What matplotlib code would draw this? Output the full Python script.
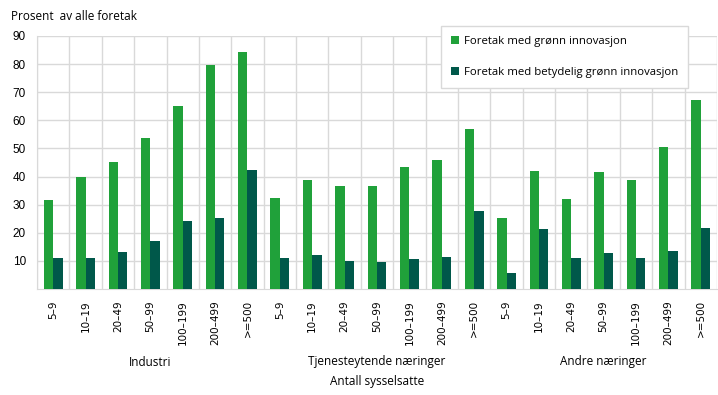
import numpy as np
import matplotlib.pyplot as plt

plt.rcParams['font.family'] = ['Open Sans', 'DejaVu Sans']

groups = ['Industri', 'Tjenesteytende næringer', 'Andre næringer']
sizes = ['5–9', '10–19', '20–49', '50–99', '100–199', '200–499', '>=500']

green = [31.7, 39.8, 45.2, 53.7, 65.1, 79.8, 84.4,
         32.4, 38.8, 36.7, 36.7, 43.4, 45.9, 56.9,
         25.3, 42.0, 32.0, 41.6, 38.8, 50.5, 67.3]
dark = [11.0, 11.0, 13.3, 17.2, 24.2, 25.3, 42.3,
        11.0, 12.1, 10.0, 9.7, 10.8, 11.5, 27.8,
        5.7, 21.4, 11.0, 12.8, 11.0, 13.5, 21.7]
series_names = ['Foretak med grønn innovasjon', 'Foretak med betydelig grønn innovasjon']

c_green = '#20a13a'
c_dark = '#00584a'
grid_c = '#d9d9d9'

fig = plt.figure(figsize=(7.18, 3.95), dpi=100)
ax = fig.add_axes([37 / 718, 1 - 289 / 395, 680 / 718, 253 / 395])

n = len(green)
x = np.arange(n)
w = 0.29
ax.bar(x - w / 2, green, w, color=c_green, label=series_names[0], zorder=3)
ax.bar(x + w / 2, dark, w, color=c_dark, label=series_names[1], zorder=3)

ax.set_xlim(-0.5, n - 0.5)
ax.set_ylim(0, 90)
ax.set_yticks(np.arange(10, 91, 10))
ax.set_xticks(x)
ax.set_xticklabels(sizes * 3, rotation=90, fontsize=7.5, family=['DejaVu Sans'])
ax.set_xticks(np.arange(-0.5, n, 1), minor=True)
ax.tick_params(axis='x', which='both', length=0, pad=8)
ax.tick_params(axis='y', length=0, pad=8, labelsize=8.5)
for t in ax.get_yticklabels():
    t.set_family(['Liberation Sans', 'DejaVu Sans'])

ax.grid(axis='x', which='minor', color=grid_c, lw=1, zorder=0)
ax.grid(axis='y', which='major', color=grid_c, lw=1, zorder=0)
for s in ['top', 'right']:
    ax.spines[s].set_visible(False)
ax.spines['left'].set_color(grid_c)
ax.spines['bottom'].set_color(grid_c)

leg = ax.legend(loc='upper right', bbox_to_anchor=(651 / 680, 1.04), fontsize=8.2,
                frameon=True, fancybox=False, edgecolor=grid_c, framealpha=1,
                handlelength=0.7, handleheight=0.7, handletextpad=0.4,
                labelspacing=1.75, borderpad=0.9, borderaxespad=0)
leg.get_frame().set_linewidth(1)

fig.text(11 / 718, 1 - 17 / 395, 'Prosent  av alle foretak', fontsize=8.5, va='center', ha='left')
for i, g in enumerate(groups):
    cx = (37 + (7 * i + 3.5) * 680 / 21) / 718
    fig.text(cx, 1 - 362 / 395, g, fontsize=8.5, ha='center', va='center')
fig.text((37 + 10.5 * 680 / 21) / 718, 1 - 382 / 395, 'Antall sysselsatte', fontsize=8.5,
         ha='center', va='center')

fig.savefig('out.png', dpi=100)
